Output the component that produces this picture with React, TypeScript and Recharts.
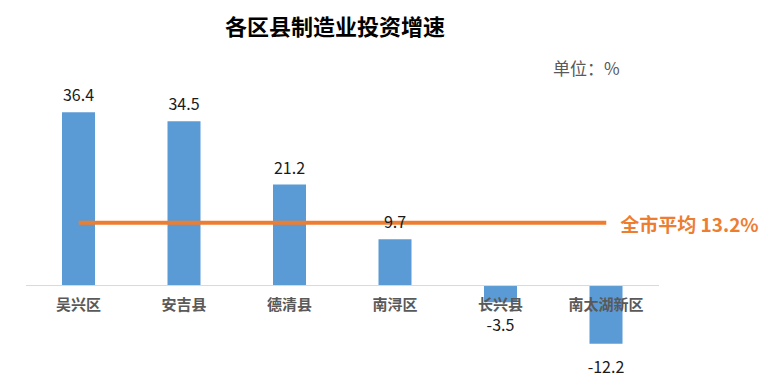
import React from 'react';
import { BarChart, Bar, XAxis, YAxis, ReferenceLine, LabelList } from 'recharts';

// 各区县名称与增速（%）
const districts = ['吴兴区', '安吉县', '德清县', '南浔区', '长兴县', '南太湖新区'];
const growth = [36.4, 34.5, 21.2, 9.7, -3.5, -12.2];
const cityAverage = 13.2;
const averageLabel = '全市平均 13.2%';
const title = '各区县制造业投资增速';
const unitText = '单位：%';

const FONT = '"Noto Sans CJK SC", "Noto Sans", sans-serif';
const BLUE = '#5B9BD5';
const ORANGE = '#ED7D31';

const data = districts.map((name, i) => ({ name, value: growth[i] }));

// 类目名：紧贴零线下方
function NameLabel(props: any) {
  const { x, y, width, height, value, index } = props;
  const top = Math.min(y, y + height);
  const bottom = Math.max(y, y + height);
  const zeroY = growth[index] >= 0 ? bottom : top;
  return (
    <text
      x={x + width / 2}
      y={zeroY + 18}
      textAnchor="middle"
      dominantBaseline="central"
      fontFamily={FONT}
      fontSize={15}
      fontWeight="bold"
      fill="#595959"
    >
      {value}
    </text>
  );
}

// 数值：正值在柱顶上方，负值在柱底下方
function ValueLabel(props: any) {
  const { x, y, width, height, value } = props;
  const top = Math.min(y, y + height);
  const bottom = Math.max(y, y + height);
  const ty = value >= 0 ? top - 18 : bottom + 22;
  return (
    <text
      x={x + width / 2}
      y={ty}
      textAnchor="middle"
      dominantBaseline="central"
      fontFamily={FONT}
      fontSize={16}
      fill="#1a1a1a"
    >
      {value}
    </text>
  );
}

function AverageLabel(props: any) {
  const { viewBox } = props;
  if (!viewBox) return null;
  return (
    <text
      x={viewBox.x + viewBox.width + 14}
      y={viewBox.y + viewBox.height / 2 + 1}
      dominantBaseline="central"
      fontFamily={FONT}
      fontSize={19}
      fontWeight="bold"
      fill={ORANGE}
    >
      {averageLabel}
    </text>
  );
}

export default function App() {
  return (
    <div style={{ position: 'absolute', left: 0, top: 0, width: 768, height: 379, background: '#fff', fontFamily: FONT }}>
      <div
        style={{
          position: 'absolute',
          left: 0,
          top: 10,
          width: 670,
          textAlign: 'center',
          fontSize: 22,
          lineHeight: '30px',
          fontWeight: 'bold',
          color: '#000',
        }}
      >
        {title}
      </div>
      <div
        style={{
          position: 'absolute',
          left: 553,
          top: 56,
          fontSize: 17,
          lineHeight: '24px',
          color: '#595959',
        }}
      >
        {unitText}
      </div>
      <BarChart
        width={768}
        height={379}
        data={data}
        margin={{ top: 95, right: 109, bottom: 22, left: 26 }}
      >
        <XAxis dataKey="name" hide />
        <YAxis hide domain={[-15, 40]} />
        <ReferenceLine y={0} stroke="#d9d9d9" strokeWidth={1} />
        <Bar dataKey="value" fill={BLUE} barSize={33} isAnimationActive={false}>
          <LabelList dataKey="name" content={<NameLabel />} />
          <LabelList dataKey="value" content={<ValueLabel />} />
        </Bar>
        <ReferenceLine
          segment={[
            { x: districts[0], y: cityAverage },
            { x: districts[districts.length - 1], y: cityAverage },
          ]}
          stroke={ORANGE}
          strokeWidth={4}
          label={<AverageLabel />}
        />
      </BarChart>
    </div>
  );
}
